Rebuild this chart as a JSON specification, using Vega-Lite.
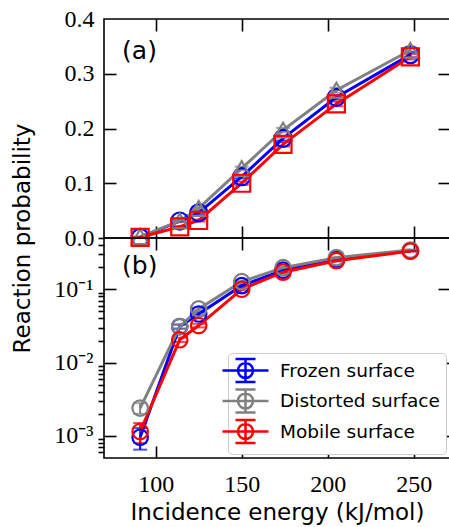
{
  "$schema": "https://vega.github.io/schema/vega-lite/v6.json",
  "autosize": "none",
  "padding": {"left": 104, "top": 19, "right": 345, "bottom": 508},
  "background": "white",
  "spacing": 0,
  "bounds": "flush",
  "resolve": {"scale": {"color": "independent", "shape": "independent"}, "legend": {"color": "independent", "shape": "independent"}},
  "config": {
    "view": {"stroke": "black", "strokeWidth": 1.6},
    "axis": {
      "domain": false, "grid": false, "tickColor": "black", "tickWidth": 1.6, "zindex": 2,
      "labelFont": "Liberation Serif", "labelFontSize": 24, "labelColor": "black",
      "titleFont": "DejaVu Sans", "titleFontSize": 23, "titleFontWeight": "normal", "titleColor": "black"
    }
  },
  "datasets": {
    "d": [
      {"s": "Frozen surface", "E": 91, "p": 0.00096, "lo": 0.00065, "hi": 0.00128},
      {"s": "Frozen surface", "E": 114, "p": 0.031, "lo": 0.029, "hi": 0.033},
      {"s": "Frozen surface", "E": 125, "p": 0.046, "lo": 0.0437, "hi": 0.0483},
      {"s": "Frozen surface", "E": 150, "p": 0.112, "lo": 0.109, "hi": 0.115},
      {"s": "Frozen surface", "E": 174, "p": 0.182, "lo": 0.178, "hi": 0.186},
      {"s": "Frozen surface", "E": 205, "p": 0.257, "lo": 0.253, "hi": 0.261},
      {"s": "Frozen surface", "E": 248, "p": 0.335, "lo": 0.330, "hi": 0.340},
      {"s": "Distorted surface", "E": 91, "p": 0.0024, "lo": 0.0020, "hi": 0.0028},
      {"s": "Distorted surface", "E": 114, "p": 0.031, "lo": 0.029, "hi": 0.033},
      {"s": "Distorted surface", "E": 125, "p": 0.054, "lo": 0.0516, "hi": 0.0564},
      {"s": "Distorted surface", "E": 150, "p": 0.127, "lo": 0.1237, "hi": 0.1303},
      {"s": "Distorted surface", "E": 174, "p": 0.197, "lo": 0.193, "hi": 0.201},
      {"s": "Distorted surface", "E": 205, "p": 0.270, "lo": 0.2655, "hi": 0.2745},
      {"s": "Distorted surface", "E": 248, "p": 0.343, "lo": 0.338, "hi": 0.348},
      {"s": "Mobile surface", "E": 91, "p": 0.00115, "lo": 0.0008, "hi": 0.0015},
      {"s": "Mobile surface", "E": 114, "p": 0.0205, "lo": 0.0191, "hi": 0.0219},
      {"s": "Mobile surface", "E": 125, "p": 0.032, "lo": 0.0302, "hi": 0.0338},
      {"s": "Mobile surface", "E": 150, "p": 0.100, "lo": 0.097, "hi": 0.103},
      {"s": "Mobile surface", "E": 174, "p": 0.171, "lo": 0.167, "hi": 0.175},
      {"s": "Mobile surface", "E": 205, "p": 0.245, "lo": 0.2407, "hi": 0.2493},
      {"s": "Mobile surface", "E": 248, "p": 0.331, "lo": 0.326, "hi": 0.336}
    ],
    "one": [{"k": 1}]
  },
  "vconcat": [
    {
      "width": 346, "height": 219,
      "data": {"name": "d"},
      "resolve": {"axis": {"x": "independent", "y": "independent"}},
      "layer": [
        {
          "mark": {"type": "errorbar", "ticks": {"size": 14, "thickness": 2}, "thickness": 2},
          "encoding": {
            "x": {"field": "E", "type": "quantitative", "scale": {"domain": [70, 271], "nice": false, "zero": false},
                  "axis": {"orient": "top", "offset": -219, "values": [100, 150, 200, 250], "labels": false, "tickSize": 12, "title": null}},
            "y": {"field": "lo", "type": "quantitative", "scale": {"domain": [0, 0.4], "nice": false},
                  "axis": {"orient": "left", "values": [0, 0.1, 0.2, 0.3, 0.4], "format": ".1f", "ticks": false, "labelPadding": 10,
                           "title": "Reaction probability", "titleY": 219, "titleX": -82, "titleAngle": -90, "titleAlign": "center", "titleBaseline": "middle"}},
            "y2": {"field": "hi"},
            "color": {"field": "s", "type": "nominal", "legend": null,
                      "scale": {"domain": ["Frozen surface", "Distorted surface", "Mobile surface"], "range": ["#0000ff", "#808080", "#ff0000"]}}
          }
        },
        {
          "mark": {"type": "line", "strokeWidth": 3},
          "encoding": {
            "x": {"field": "E", "type": "quantitative", "axis": {"orient": "bottom", "offset": -219, "values": [100, 150, 200, 250], "labels": false, "tickSize": 12, "title": null}},
            "y": {"field": "p", "type": "quantitative", "axis": {"orient": "right", "offset": -346, "values": [0.1, 0.2, 0.3], "labels": false, "tickSize": 12, "title": null}},
            "color": {"field": "s", "type": "nominal", "legend": null}
          }
        },
        {
          "mark": {"type": "point", "filled": false, "strokeWidth": 2.2, "size": 290, "opacity": 1},
          "encoding": {
            "x": {"field": "E", "type": "quantitative", "axis": null},
            "y": {"field": "p", "type": "quantitative", "axis": {"orient": "left", "offset": -346, "values": [0.1, 0.2, 0.3], "labels": false, "tickSize": 12, "title": null}},
            "color": {"field": "s", "type": "nominal", "legend": null},
            "shape": {"field": "s", "type": "nominal", "legend": null,
                      "scale": {"domain": ["Frozen surface", "Distorted surface", "Mobile surface"], "range": ["circle", "triangle-up", "square"]}}
          }
        },
        {
          "data": {"name": "one"},
          "mark": {"type": "text", "text": "(a)", "font": "DejaVu Sans", "fontSize": 25, "fontWeight": "normal", "align": "left", "baseline": "middle", "color": "black"},
          "encoding": {
            "x": {"datum": 80.5, "type": "quantitative", "axis": null},
            "y": {"datum": 0.342, "type": "quantitative", "axis": null}
          }
        }
      ]
    },
    {
      "width": 346, "height": 220,
      "data": {"name": "d"},
      "resolve": {"axis": {"x": "independent", "y": "independent"}},
      "layer": [
        {
          "mark": {"type": "errorbar", "ticks": {"size": 14, "thickness": 2}, "thickness": 2},
          "encoding": {
            "x": {"field": "E", "type": "quantitative", "scale": {"domain": [70, 271], "nice": false, "zero": false},
                  "axis": {"orient": "bottom", "values": [100, 150, 200, 250], "ticks": false, "labelPadding": 14, "title": "Incidence energy (kJ/mol)", "titlePadding": 5}},
            "y": {"field": "lo", "type": "quantitative", "scale": {"type": "log", "domain": [0.0005, 0.5], "nice": false},
                  "axis": {"orient": "left",
                           "values": [0.0006, 0.0007, 0.0008, 0.0009, 0.001, 0.002, 0.003, 0.004, 0.005, 0.006, 0.007, 0.008, 0.009, 0.01, 0.02, 0.03, 0.04, 0.05, 0.06, 0.07, 0.08, 0.09, 0.1, 0.2, 0.3, 0.4, 0.5],
                           "tickSize": 6, "labelPadding": 5, "title": null,
                           "tickOpacity": {"condition": {"test": "abs(log(datum.value)/LN10 - round(log(datum.value)/LN10)) < 0.01", "value": 0}, "value": 1},
                           "labelExpr": "abs(log(datum.value)/LN10 + 1) < 0.01 ? '10⁻¹' : abs(log(datum.value)/LN10 + 2) < 0.01 ? '10⁻²' : abs(log(datum.value)/LN10 + 3) < 0.01 ? '10⁻³' : ''"}},
            "y2": {"field": "hi"},
            "color": {"field": "s", "type": "nominal",
                      "scale": {"domain": ["Frozen surface", "Distorted surface", "Mobile surface"], "range": ["#0000ff", "#808080", "#ff0000"]},
                      "legend": {"orient": "bottom-right", "offset": 4, "title": null,
                                 "symbolType": "M-2.3,0H2.3M-0.75,0A0.75,0.75,0,1,0,0.75,0A0.75,0.75,0,1,0,-0.75,0M0,-1.15V1.15M-1,-1.15H1M-1,1.15H1",
                                 "symbolSize": 400, "symbolStrokeWidth": 2.5, "symbolFillColor": "transparent", "symbolOpacity": 1,
                                 "labelFont": "DejaVu Sans", "labelFontSize": 18.5, "labelColor": "black", "labelOffset": 23,
                                 "padding": 6, "rowPadding": -2.5, "strokeColor": "#cccccc", "fillColor": "white", "cornerRadius": 4, "zindex": 3,
                                 "encode": {"symbols": {"update": {
                                   "fill": {"value": "transparent"}, "fillOpacity": {"value": 0}, "opacity": {"value": 1},
                                   "strokeWidth": {"value": 2.5}, "size": {"value": 400},
                                   "shape": {"value": "M-2.3,0H2.3M-0.75,0A0.75,0.75,0,1,0,0.75,0A0.75,0.75,0,1,0,-0.75,0M0,-1.15V1.15M-1,-1.15H1M-1,1.15H1"}}}}}}
          }
        },
        {
          "mark": {"type": "line", "strokeWidth": 3},
          "encoding": {
            "x": {"field": "E", "type": "quantitative", "axis": {"orient": "top", "offset": -220, "values": [100, 150, 200, 250], "labels": false, "tickSize": 12, "title": null}},
            "y": {"field": "p", "type": "quantitative", "axis": {"orient": "right", "offset": -346, "values": [0.001, 0.01, 0.1], "labels": false, "tickSize": 12, "title": null}},
            "color": {"field": "s", "type": "nominal"}
          }
        },
        {
          "mark": {"type": "point", "filled": false, "strokeWidth": 2.2, "size": 240, "shape": "circle", "opacity": 1},
          "encoding": {
            "x": {"field": "E", "type": "quantitative", "axis": {"orient": "bottom", "offset": -220, "values": [100, 150, 200, 250], "labels": false, "tickSize": 12, "title": null}},
            "y": {"field": "p", "type": "quantitative", "axis": {"orient": "left", "offset": -346, "values": [0.001, 0.01, 0.1], "labels": false, "tickSize": 12, "title": null}},
            "color": {"field": "s", "type": "nominal"}
          }
        },
        {
          "data": {"name": "one"},
          "mark": {"type": "text", "text": "(b)", "font": "DejaVu Sans", "fontSize": 25, "fontWeight": "normal", "align": "left", "baseline": "middle", "color": "black"},
          "encoding": {
            "x": {"datum": 80.5, "type": "quantitative", "axis": null},
            "y": {"datum": 0.21, "type": "quantitative", "axis": null}
          }
        }
      ]
    }
  ]
}
